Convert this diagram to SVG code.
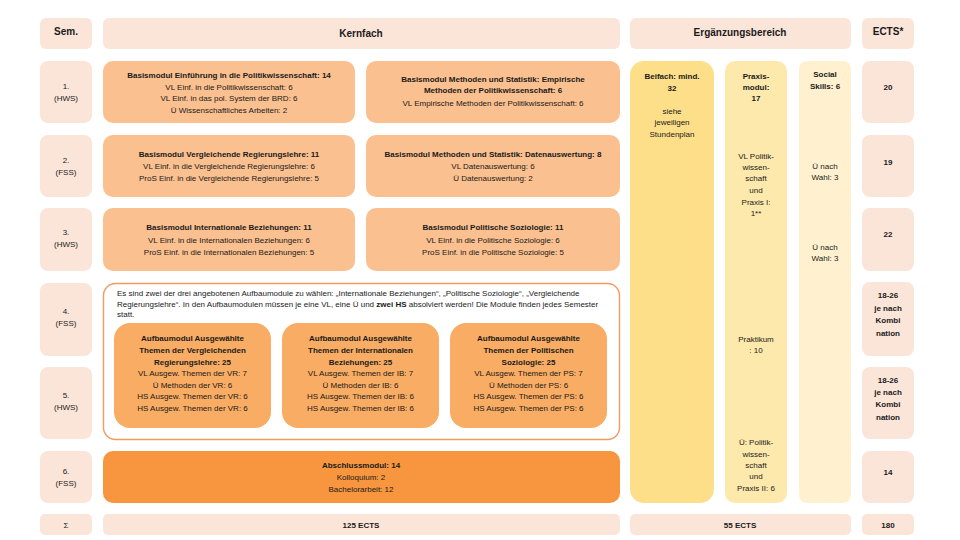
<svg xmlns="http://www.w3.org/2000/svg" width="960" height="540" viewBox="0 0 960 540">
<style>
text{font-family:"Liberation Sans",Arial,sans-serif;font-size:8px;fill:#1a1a1a;text-anchor:middle}
.b{font-weight:bold}
.h{font-weight:bold;font-size:10px}
.l{text-anchor:start}
.pink{fill:#FBE5D8}
.basis{fill:#FAC08F}
.auf{fill:#F9AC63}
.absch{fill:#F7963F}
.bei{fill:#FDDF8A}
.prax{fill:#FEE9AC}
.soc{fill:#FFF1CF}
</style>
<rect width="960" height="540" fill="#ffffff"/>
<g id="header">
<rect class="pink" x="40" y="18" width="52" height="31" rx="6"/>
<text class="h" x="66" y="35">Sem.</text>
<rect class="pink" x="103" y="18" width="517" height="31" rx="6"/>
<text class="h" x="361" y="37">Kernfach</text>
<rect class="pink" x="630" y="18" width="221" height="31" rx="6"/>
<text class="h" x="740" y="36">Ergänzungsbereich</text>
<rect class="pink" x="862" y="18" width="52" height="31" rx="6"/>
<text class="h" x="888" y="35">ECTS*</text>
</g>
<g id="semester">
<rect class="pink" x="40" y="61" width="52" height="62" rx="8"/>
<text x="66" y="89">1.</text><text x="66" y="101">(HWS)</text>
<rect class="pink" x="40" y="135" width="52" height="62" rx="8"/>
<text x="66" y="163">2.</text><text x="66" y="175">(FSS)</text>
<rect class="pink" x="40" y="208" width="52" height="63" rx="8"/>
<text x="66" y="235">3.</text><text x="66" y="247">(HWS)</text>
<rect class="pink" x="40" y="283" width="52" height="73" rx="8"/>
<text x="66" y="314">4.</text><text x="66" y="326">(FSS)</text>
<rect class="pink" x="40" y="367" width="52" height="72" rx="8"/>
<text x="66" y="398">5.</text><text x="66" y="410">(HWS)</text>
<rect class="pink" x="40" y="451" width="52" height="52" rx="8"/>
<text x="66" y="474">6.</text><text x="66" y="486">(FSS)</text>
<rect class="pink" x="40" y="514" width="52" height="21" rx="5"/>
<text x="66" y="528">Σ</text>
</g>
<g id="basis-einfuehrung">
<rect class="basis" x="103" y="61" width="252" height="62" rx="10"/>
<text class="b" x="229" y="78">Basismodul Einführung in die Politikwissenschaft: 14</text>
<text x="229" y="89.5">VL Einf. in die Politikwissenschaft: 6</text>
<text x="229" y="101">VL Einf. in das pol. System der BRD: 6</text>
<text x="229" y="112.5">Ü Wissenschaftliches Arbeiten: 2</text>
</g>
<g id="basis-methoden-emp">
<rect class="basis" x="366" y="61" width="254" height="62" rx="10"/>
<text class="b" x="493" y="82">Basismodul Methoden und Statistik: Empirische</text>
<text class="b" x="493" y="93">Methoden der Politikwissenschaft: 6</text>
<text x="493" y="106">VL Empirische Methoden der Politikwissenschaft: 6</text>
</g>
<g id="basis-vergleichende">
<rect class="basis" x="103" y="135" width="252" height="62" rx="10"/>
<text class="b" x="229" y="157">Basismodul Vergleichende Regierungslehre: 11</text>
<text x="229" y="168.5">VL Einf. in die Vergleichende Regierungslehre: 6</text>
<text x="229" y="180.5">ProS Einf. in die Vergleichende Regierungslehre: 5</text>
</g>
<g id="basis-methoden-da">
<rect class="basis" x="366" y="135" width="254" height="62" rx="10"/>
<text class="b" x="493" y="157">Basismodul Methoden und Statistik: Datenauswertung: 8</text>
<text x="493" y="168.5">VL Datenauswertung: 6</text>
<text x="493" y="180.5">Ü Datenauswertung: 2</text>
</g>
<g id="basis-ib">
<rect class="basis" x="103" y="208" width="252" height="63" rx="10"/>
<text class="b" x="229" y="230">Basismodul Internationale Beziehungen: 11</text>
<text x="229" y="242.5">VL Einf. in die Internationalen Beziehungen: 6</text>
<text x="229" y="254.5">ProS Einf. in die Internationalen Beziehungen: 5</text>
</g>
<g id="basis-ps">
<rect class="basis" x="366" y="208" width="254" height="63" rx="10"/>
<text class="b" x="493" y="230">Basismodul Politische Soziologie: 11</text>
<text x="493" y="242.5">VL Einf. in die Politische Soziologie: 6</text>
<text x="493" y="254.5">ProS Einf. in die Politische Soziologie: 5</text>
</g>
<g id="aufbau-container">
<rect x="103.5" y="283.5" width="516" height="156" rx="12" fill="#ffffff" stroke="#F29A62" stroke-width="1.4"/>
<text class="l" x="117" y="296">Es sind zwei der drei angebotenen Aufbaumodule zu wählen: „Internationale Beziehungen“, „Politische Soziologie“, „Vergleichende</text>
<text class="l" x="117" y="306.5">Regierungslehre“. In den Aufbaumodulen müssen je eine VL, eine Ü und <tspan class="b">zwei HS</tspan> absolviert werden! Die Module finden jedes Semester</text>
<text class="l" x="117" y="317">statt.</text>
</g>
<g id="aufbau-vr">
<rect class="auf" x="114" y="323" width="157" height="105" rx="16"/>
<text class="b" x="192.5" y="341">Aufbaumodul Ausgewählte</text>
<text class="b" x="192.5" y="353">Themen der Vergleichenden</text>
<text class="b" x="192.5" y="364.5">Regierungslehre: 25</text>
<text x="192.5" y="376">VL Ausgew. Themen der VR: 7</text>
<text x="192.5" y="387.5">Ü Methoden der VR: 6</text>
<text x="192.5" y="399">HS Ausgew. Themen der VR: 6</text>
<text x="192.5" y="410.5">HS Ausgew. Themen der VR: 6</text>
</g>
<g id="aufbau-ib">
<rect class="auf" x="282" y="323" width="157" height="105" rx="16"/>
<text class="b" x="360.5" y="341">Aufbaumodul Ausgewählte</text>
<text class="b" x="360.5" y="353">Themen der Internationalen</text>
<text class="b" x="360.5" y="364.5">Beziehungen: 25</text>
<text x="360.5" y="376">VL Ausgew. Themen der IB: 7</text>
<text x="360.5" y="387.5">Ü Methoden der IB: 6</text>
<text x="360.5" y="399">HS Ausgew. Themen der IB: 6</text>
<text x="360.5" y="410.5">HS Ausgew. Themen der IB: 6</text>
</g>
<g id="aufbau-ps">
<rect class="auf" x="450" y="323" width="157" height="105" rx="16"/>
<text class="b" x="528.5" y="341">Aufbaumodul Ausgewählte</text>
<text class="b" x="528.5" y="353">Themen der Politischen</text>
<text class="b" x="528.5" y="364.5">Soziologie: 25</text>
<text x="528.5" y="376">VL Ausgew. Themen der PS: 7</text>
<text x="528.5" y="387.5">Ü Methoden der PS: 6</text>
<text x="528.5" y="399">HS Ausgew. Themen der PS: 6</text>
<text x="528.5" y="410.5">HS Ausgew. Themen der PS: 6</text>
</g>
<g id="abschluss">
<rect class="absch" x="103" y="451" width="517" height="52" rx="10"/>
<text class="b" x="361" y="468">Abschlussmodul: 14</text>
<text x="361" y="480">Kolloquium: 2</text>
<text x="361" y="492">Bachelorarbeit: 12</text>
</g>
<g id="sum-kern">
<rect class="pink" x="103" y="514" width="517" height="21" rx="5"/>
<text class="b" x="361" y="528">125 ECTS</text>
</g>
<g id="beifach">
<rect class="bei" x="630" y="61" width="84" height="442" rx="14"/>
<text class="b" x="672" y="78.5">Beifach: mind.</text>
<text class="b" x="672" y="90.5">32</text>
<text x="672" y="113.5">siehe</text>
<text x="672" y="125">jeweiligen</text>
<text x="672" y="136.5">Stundenplan</text>
</g>
<g id="praxis">
<rect class="prax" x="725" y="61" width="62" height="442" rx="10"/>
<text class="b" x="756" y="78.5">Praxis-</text>
<text class="b" x="756" y="90">modul:</text>
<text class="b" x="756" y="101">17</text>
<text x="756" y="158.5">VL Politik-</text>
<text x="756" y="170">wissen-</text>
<text x="756" y="181">schaft</text>
<text x="756" y="193">und</text>
<text x="756" y="204.5">Praxis I:</text>
<text x="756" y="215.5">1**</text>
<text x="756" y="342">Praktikum</text>
<text x="756" y="353">: 10</text>
<text x="756" y="445">Ü: Politik-</text>
<text x="756" y="456.5">wissen-</text>
<text x="756" y="467.5">schaft</text>
<text x="756" y="479">und</text>
<text x="756" y="490.5">Praxis II: 6</text>
</g>
<g id="social">
<rect class="soc" x="799" y="61" width="52" height="442" rx="8"/>
<text class="b" x="825" y="77">Social</text>
<text class="b" x="825" y="89">Skills: 6</text>
<text x="825" y="169">Ü nach</text>
<text x="825" y="180">Wahl: 3</text>
<text x="825" y="249.5">Ü nach</text>
<text x="825" y="261">Wahl: 3</text>
</g>
<g id="sum-erg">
<rect class="pink" x="630" y="514" width="221" height="21" rx="5"/>
<text class="b" x="740" y="528">55 ECTS</text>
</g>
<g id="ects">
<rect class="pink" x="862" y="61" width="52" height="62" rx="8"/>
<text class="b" x="888" y="90">20</text>
<rect class="pink" x="862" y="135" width="52" height="62" rx="8"/>
<text class="b" x="888" y="164.5">19</text>
<rect class="pink" x="862" y="208" width="52" height="63" rx="8"/>
<text class="b" x="888" y="237">22</text>
<rect class="pink" x="862" y="282" width="52" height="74" rx="8"/>
<text class="b" x="888" y="298">18-26</text>
<text class="b" x="888" y="310.5">je nach</text>
<text class="b" x="888" y="323">Kombi</text>
<text class="b" x="888" y="335.5">nation</text>
<rect class="pink" x="862" y="367" width="52" height="72" rx="8"/>
<text class="b" x="888" y="382.5">18-26</text>
<text class="b" x="888" y="395">je nach</text>
<text class="b" x="888" y="407">Kombi</text>
<text class="b" x="888" y="419.5">nation</text>
<rect class="pink" x="862" y="451" width="52" height="52" rx="8"/>
<text class="b" x="888" y="475">14</text>
<rect class="pink" x="862" y="514" width="52" height="21" rx="5"/>
<text class="b" x="888" y="528">180</text>
</g>
<g id="connectors"></g>
</svg>
